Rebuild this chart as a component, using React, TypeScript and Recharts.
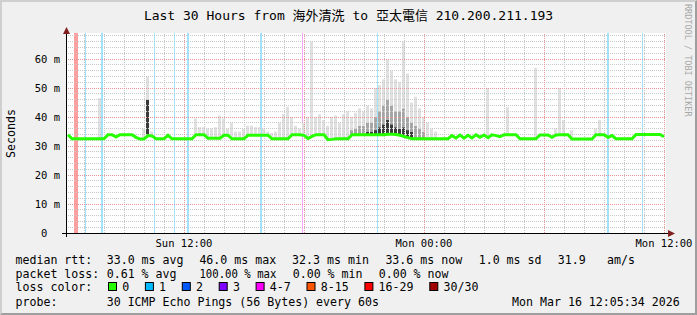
import { ComposedChart, Bar, Line, XAxis, YAxis, CartesianGrid, ReferenceLine, ReferenceArea } from "recharts"

// time axis in hours since Sun 00:00, one sample every 12 minutes
const startHour = 6.1
const stepHours = 0.2

const median = [
    33.9, 32.5, 32.5, 32.5, 32.5, 32.5, 32.5, 32.5, 32.5, 32.5,
    33.9, 33.9, 33.1, 33.9, 33.9, 33.9, 33.9, 33.0, 32.4, 32.4,
    33.6, 33.5, 32.5, 32.5, 32.5, 33.7, 32.5, 32.5, 32.5, 32.5,
    32.5, 32.5, 33.9, 33.9, 33.9, 32.7, 32.7, 32.7, 32.7, 33.7,
    33.7, 32.5, 32.5, 32.5, 32.5, 33.7, 33.7, 33.7, 33.7, 33.7,
    33.7, 32.5, 32.5, 32.5, 32.5, 32.5, 33.9, 33.9, 33.9, 33.7,
    32.6, 33.3, 33.9, 33.9, 33.9, 32.2, 32.3, 32.5, 32.5, 32.5,
    32.5, 33.9, 33.9, 33.9, 33.9, 33.9, 33.9, 33.9, 33.9, 33.9,
    34.1, 34.1, 34.0, 33.7, 33.3, 32.9, 32.5, 32.5, 32.5, 32.5,
    32.5, 32.5, 32.5, 32.5, 32.5, 32.5, 33.6, 32.8, 33.8, 32.7,
    33.7, 32.8, 33.9, 33.0, 33.8, 32.9, 33.9, 33.6, 33.2, 33.9,
    33.9, 33.9, 33.9, 32.5, 32.5, 32.5, 32.5, 32.5, 33.8, 33.8,
    33.8, 33.0, 33.8, 33.9, 33.9, 33.9, 32.4, 32.4, 32.4, 32.4,
    32.4, 32.4, 33.9, 33.9, 33.9, 33.0, 33.6, 32.5, 32.5, 32.5,
    32.5, 32.5, 34.0, 34.0, 34.0, 34.0, 34.0, 34.0, 34.0, 33.2,
]

// top of the light smoke (0 = no smoke)
const smokeTop = [
    0, 0, 0, 0, 0, 0, 0, 0, 46.5, 0,
    0, 0, 0, 0, 0, 0, 0, 0, 0, 36,
    54, 35, 0, 0, 0, 0, 0, 0, 0, 0,
    0, 0, 39.5, 36.5, 36.5, 36, 36, 36.5, 40.5, 39.5,
    36, 38, 35, 35, 36, 37, 37, 36.5, 36.5, 36,
    35, 34.5, 35, 38, 41, 43.5, 40, 37, 36, 38,
    40, 66, 40, 41, 39, 37, 40, 40.5, 38, 41,
    42, 40, 41.5, 43, 42, 44, 43, 50, 51, 53,
    60, 56, 53, 52, 66, 55, 45, 47, 43, 40,
    38, 36, 35, 0, 0, 0, 0, 0, 0, 0,
    0, 0, 0, 0, 0, 50, 0, 0, 0, 0,
    43.5, 0, 0, 0, 0, 0, 0, 57, 0, 0,
    0, 0, 36, 50, 39, 0, 35.5, 0, 0, 0,
    0, 0, 36, 39, 0, 0, 0, 0, 0, 0,
    0, 0, 0, 0, 0, 0, 0, 0, 0, 0,
]

// top of the medium grey smoke
const smokeDense = [
    0, 0, 0, 0, 0, 0, 0, 0, 0, 0,
    0, 0, 0, 0, 0, 0, 0, 0, 0, 0,
    46, 0, 0, 0, 0, 0, 0, 0, 0, 0,
    0, 0, 0, 0, 0, 0, 0, 0, 0, 0,
    0, 0, 0, 0, 0, 0, 0, 0, 0, 0,
    0, 0, 0, 0, 0, 0, 0, 0, 0, 0,
    0, 0, 0, 0, 0, 0, 0, 0, 0, 0,
    0, 35.5, 36, 37, 37, 38, 38, 40, 42, 44,
    46, 44, 42, 42, 43, 40, 38, 37, 36, 35,
    0, 0, 0, 0, 0, 0, 0, 0, 0, 0,
    0, 0, 0, 0, 0, 0, 0, 0, 0, 0,
    0, 0, 0, 0, 0, 0, 0, 0, 0, 0,
    0, 0, 0, 0, 0, 0, 0, 0, 0, 0,
    0, 0, 0, 0, 0, 0, 0, 0, 0, 0,
    0, 0, 0, 0, 0, 0, 0, 0, 0, 0,
]

// top of the darkest smoke core
const smokeCore = [
    0, 0, 0, 0, 0, 0, 0, 0, 0, 0,
    0, 0, 0, 0, 0, 0, 0, 0, 0, 0,
    46, 0, 0, 0, 0, 0, 0, 0, 0, 0,
    0, 0, 0, 0, 0, 0, 0, 0, 0, 0,
    0, 0, 0, 0, 0, 0, 0, 0, 0, 0,
    0, 0, 0, 0, 0, 0, 0, 0, 0, 0,
    0, 0, 0, 0, 0, 0, 0, 0, 0, 0,
    0, 0, 0, 0, 0, 35, 35, 35.5, 36.5, 37.5,
    39, 37.5, 36.5, 36, 36.5, 35.5, 35, 0, 0, 0,
    0, 0, 0, 0, 0, 0, 0, 0, 0, 0,
    0, 0, 0, 0, 0, 0, 0, 0, 0, 0,
    0, 0, 0, 0, 0, 0, 0, 0, 0, 0,
    0, 0, 0, 0, 0, 0, 0, 0, 0, 0,
    0, 0, 0, 0, 0, 0, 0, 0, 0, 0,
    0, 0, 0, 0, 0, 0, 0, 0, 0, 0,
]

const xTickHours = [12, 24, 36]
const xTickLabels = ["Sun 12:00", "Mon 00:00", "Mon 12:00"]
const yTicks = [0, 10, 20, 30, 40, 50, 60]
const yTickLabels = ["0  ", "10 m", "20 m", "30 m", "40 m", "50 m", "60 m"]

const lossStart = [6.5, 7.05, 7.85, 10.5, 11.5, 12.15, 15.8, 17.9, 21.65, 33.15, 34.9]
const lossEnd = [6.7, 7.1, 7.95, 10.55, 11.55, 12.25, 15.9, 17.95, 21.7, 33.25, 34.95]
const lossLevel = ["16-29", "1", "1", "1", "1", "1", "1", "4-7", "1", "1", "1"]

const lossLabels = ["0", "1", "2", "3", "4-7", "8-15", "16-29", "30/30"]
const lossColors = ["#26ff00", "#00b8ff", "#0059ff", "#7e00ff", "#ff00ff", "#ff5500", "#ff0000", "#a10000"]

const rows = median.map((m, i) => {
    const core = smokeCore[i] > m ? smokeCore[i] - m : 0
    const c = Math.max(m, smokeCore[i])
    const dense = smokeDense[i] > c ? smokeDense[i] - c : 0
    const d = Math.max(c, smokeDense[i])
    const light = smokeTop[i] > d ? smokeTop[i] - d : 0
    return { h: startHour + stepHours * (i + 0.5), median: m, base: m, core, dense, light }
})

const minorHours: number[] = []
const majorHours: number[] = []
for (let h = 7; h <= 36; h++) (h % 6 === 0 ? majorHours : minorHours).push(h)
const minorMs: number[] = []
const majorMs: number[] = []
for (let v = 2; v <= 68; v += 2) (v % 10 === 0 ? majorMs : minorMs).push(v)

const MONO = '"DejaVu Sans Mono", "Noto Sans CJK TC", monospace'

function XTick(props: any) {
    const { x, y, payload } = props
    const label = xTickLabels[xTickHours.indexOf(payload.value)]
    return (
        <text x={x} y={y + 9.5} textAnchor="middle" dominantBaseline="central" fontFamily={MONO} fontSize={10.5} fill="#000">
            {label}
        </text>
    )
}

function YTick(props: any) {
    const { x, y, payload } = props
    const label = yTickLabels[yTicks.indexOf(payload.value)]
    return (
        <text x={x} y={y} textAnchor="end" dominantBaseline="central" fontFamily={MONO} fontSize={10.5} fill="#000" style={{ whiteSpace: "pre" }}>
            {label}
        </text>
    )
}

const statRows = [
    { y: 259.5, parts: ["median rtt:", "33.0 ms avg", "46.0 ms max", "32.3 ms min", "33.6 ms now", "1.0 ms sd", "31.9", "am/s"], xs: [15.5, 106.7, 199.4, 292.1, 385.4, 478.7, 557.7, 607.1] },
    { y: 273.5, parts: ["packet loss:", "0.61 % avg", "100.00 % max", "0.00 % min", "0.00 % now"], xs: [15.5, 106.7, 199.4, 292.7, 378.7] },
    { y: 301.8, parts: ["probe:", "30 ICMP Echo Pings (56 Bytes) every 60s", "Mon Mar 16 12:05:34 2026"], xs: [15.5, 106.7, 512.1] },
]

function Overlay() {
    let cx = 108
    const boxes = lossLabels.map((lab, i) => {
        const bx = cx
        cx = bx + 14.7 + lab.length * 7 + 15.2
        return (
            <g key={lab}>
                <rect x={bx + 0.5} y={282.5} width={8} height={8} fill={lossColors[i]} stroke="#000" strokeWidth={1} />
                <text x={bx + 14.2} y={287} dominantBaseline="central" fontFamily={MONO} fontSize={11.6}>{lab}</text>
            </g>
        )
    })
    return (
        <svg width={697} height={315} style={{ position: "absolute", left: 0, top: 0 }}>
            <text x={348.5} y={15} textAnchor="middle" dominantBaseline="central" fontFamily={MONO} fontSize={13} fill="#000">
                Last 30 Hours from 海外清洗 to 亞太電信 210.200.211.193
            </text>
            <text x={688} y={4} transform="rotate(90 688 4)" dominantBaseline="central" fontFamily={MONO} fontSize={8.5} fill="#a8a8a8">
                RRDTOOL / TOBI OETIKER
            </text>
            <text x={10.5} y={133.5} transform="rotate(-90 10.5 133.5)" textAnchor="middle" dominantBaseline="central" fontFamily={MONO} fontSize={11.6} fill="#000">
                Seconds
            </text>
            {statRows.map((r) =>
                r.parts.map((p, j) => (
                    <text key={r.y + "-" + j} x={r.xs[j]} y={r.y} dominantBaseline="central" fontFamily={MONO} fontSize={11.6} fill="#000"
                        style={{ whiteSpace: "pre" }} {...(p === "100.00 % max" ? { textLength: 77, lengthAdjust: "spacingAndGlyphs" } : {})}>
                        {p}
                    </text>
                ))
            )}
            <text x={15.5} y={287} dominantBaseline="central" fontFamily={MONO} fontSize={11.6}>loss color:</text>
            {boxes}
            {/* axes with rrdtool style arrows */}
            <line x1={62} y1={233.5} x2={671} y2={233.5} stroke="#000" strokeWidth={1} />
            <polygon points="668,230 675,233.5 668,237" fill="#7f1f1f" />
            <line x1={66.5} y1={237} x2={66.5} y2={31} stroke="#000" strokeWidth={1} />
            <polygon points="63,34 66.5,27 70,34" fill="#7f1f1f" />
        </svg>
    )
}

export default function App() {
    return (
        <div style={{ position: "absolute", left: 0, top: 0, width: 697, height: 315, background: "#f0f0f0", overflow: "hidden" }}>
            <ComposedChart width={697} height={315} data={rows} margin={{ top: 33, right: 31, bottom: 62, left: 6 }}>
                <CartesianGrid fill="#ffffff" horizontal={false} vertical={false} />
                <XAxis dataKey="h" type="number" domain={[6.1, 36.1]} allowDataOverflow ticks={xTickHours} interval={0}
                    axisLine={false} tickLine={false} tickSize={0} tickMargin={0} height={20} tick={<XTick />} />
                <YAxis type="number" domain={[0, 69]} allowDataOverflow ticks={yTicks} interval={0}
                    axisLine={false} tickLine={false} tickSize={0} tickMargin={6} width={60} tick={<YTick />} />
                {minorHours.map((h) => (
                    <ReferenceLine key={"mh" + h} x={h} stroke="#c8c8c8" strokeDasharray="1 1" shapeRendering="crispEdges" />
                ))}
                {minorMs.map((v) => (
                    <ReferenceLine key={"mv" + v} y={v} stroke="#c8c8c8" strokeDasharray="1 1" shapeRendering="crispEdges" />
                ))}
                {majorHours.map((h) => (
                    <ReferenceLine key={"Mh" + h} x={h} stroke="#e69494" strokeDasharray="1 1" shapeRendering="crispEdges" />
                ))}
                {majorMs.map((v) => (
                    <ReferenceLine key={"Mv" + v} y={v} stroke="#e69494" strokeDasharray="1 1" shapeRendering="crispEdges" />
                ))}
                {lossStart.map((s, i) => (
                    <ReferenceArea key={"loss" + i} x1={s} x2={lossEnd[i]} fill={lossColors[lossLabels.indexOf(lossLevel[i])]}
                        fillOpacity={0.38} stroke="none" />
                ))}
                <Bar dataKey="base" stackId="smoke" fill="transparent" barSize={3} isAnimationActive={false} />
                <Bar dataKey="core" stackId="smoke" fill="#3a3a3a" barSize={3} isAnimationActive={false} />
                <Bar dataKey="dense" stackId="smoke" fill="#a6a6a6" barSize={3} isAnimationActive={false} />
                <Bar dataKey="light" stackId="smoke" fill="#e0e0e0" barSize={3} isAnimationActive={false} />
                <Line dataKey="median" type="linear" stroke="#26ff00" strokeWidth={3} dot={false} isAnimationActive={false} />
            </ComposedChart>
            <div style={{ position: "absolute", left: 0, top: 0, width: 697, height: 315, boxSizing: "border-box",
                borderTop: "2px solid #cfcfcf", borderLeft: "2px solid #cfcfcf", borderRight: "2px solid #9e9e9e", borderBottom: "2px solid #9e9e9e" }} />
            <Overlay />
        </div>
    )
}
